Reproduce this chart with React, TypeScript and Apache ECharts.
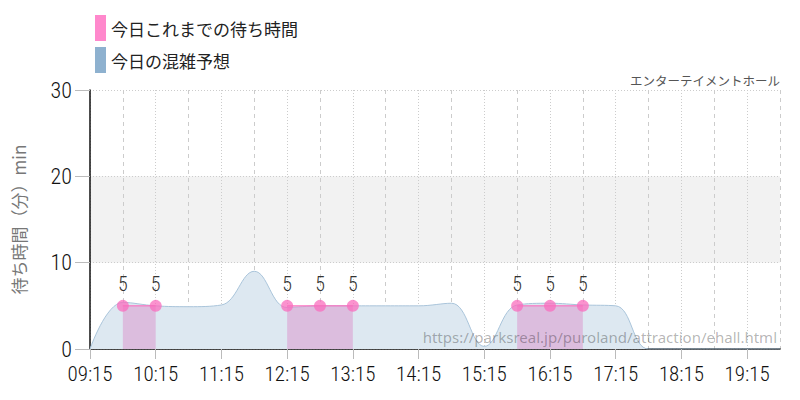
import { useEffect, useRef } from 'react';
import * as echarts from 'echarts';

// time slots every 30 min
const times = [
  '09:15', '09:45', '10:15', '10:45', '11:15', '11:45', '12:15', '12:45',
  '13:15', '13:45', '14:15', '14:45', '15:15', '15:45', '16:15', '16:45',
  '17:15', '17:45', '18:15', '18:45', '19:15', '19:45'
];

// today's forecast (blue area)
const forecast = [
  0, 5.4, 5.0, 4.9, 5.1, 9.0, 4.8, 5.0,
  5.0, 5.0, 5.0, 5.3, 0.3, 5.1, 5.3, 5.1,
  5.0, 0, 0, 0, 0, 0
];

// today's actual waits (pink)
const waits = [
  null, 5, 5, null, null, null, 5, 5,
  5, null, null, null, null, 5, 5, 5,
  null, null, null, null, null, null
];

const yTicks = [0, 10, 20, 30];

const condensed = "'Roboto Condensed', 'Liberation Sans Narrow', 'DejaVu Sans Condensed', sans-serif";
const jp = "'Noto Sans CJK JP', sans-serif";

const App = () => {
  const chartRef = useRef<HTMLDivElement>(null);

  useEffect(() => {
    if (!chartRef.current) return;
    const chart = echarts.init(chartRef.current, undefined, { renderer: 'svg' });

    const options: echarts.EChartsOption = {
      animation: false,
      backgroundColor: '#fff',
      textStyle: { fontFamily: jp },
      grid: { left: 90, right: 20, top: 90, bottom: 51 },
      legend: {
        orient: 'vertical',
        left: 90,
        top: 10,
        itemWidth: 11,
        itemHeight: 26,
        itemGap: 6,
        icon: 'rect',
        textStyle: { fontSize: 17, color: '#222', fontFamily: jp },
        data: [
          { name: '今日これまでの待ち時間', itemStyle: { color: '#ff88cc' } },
          { name: '今日の混雑予想', itemStyle: { color: '#8eb1cf' } }
        ]
      },
      title: {
        text: 'エンターテイメントホール',
        right: 15,
        top: 69,
        textStyle: { fontSize: 12.5, fontWeight: 'normal', color: '#555', fontFamily: jp }
      },
      graphic: [
        {
          type: 'text',
          right: 23,
          top: 329,
          z: 100,
          style: {
            text: 'https://parksreal.jp/puroland/attraction/ehall.html',
            fontSize: 15,
            fontFamily: "'Noto Sans', sans-serif",
            fill: 'rgba(0,0,0,0.3)'
          }
        }
      ],
      xAxis: [
        {
          type: 'category',
          data: times,
          boundaryGap: false,
          axisLine: { lineStyle: { color: '#111', width: 1.5 } },
          axisTick: { interval: 1, length: 10, lineStyle: { color: '#bbb' } },
          axisLabel: {
            interval: 1,
            fontSize: 21,
            fontWeight: 300,
            color: '#111',
            fontFamily: condensed,
            margin: 14
          },
          splitLine: {
            show: true,
            interval: 1,
            lineStyle: { color: '#ccc', type: [1, 2] }
          }
        },
        {
          type: 'category',
          data: times,
          boundaryGap: false,
          position: 'bottom',
          axisLine: { show: false },
          axisTick: { show: false },
          axisLabel: { show: false },
          splitLine: {
            show: true,
            interval: (i: number) => i % 2 === 1,
            lineStyle: { color: '#ccc', type: [4, 4] }
          }
        }
      ],
      yAxis: {
        type: 'value',
        min: yTicks[0],
        max: yTicks[yTicks.length - 1],
        interval: 10,
        name: '待ち時間（分）min',
        nameLocation: 'middle',
        nameRotate: 90,
        nameGap: 63,
        nameTextStyle: { fontSize: 17, color: '#777', fontFamily: jp },
        axisLine: { show: true, lineStyle: { color: '#111', width: 1.5 } },
        axisTick: { show: true, length: 15, lineStyle: { color: '#bbb' } },
        axisLabel: {
          fontSize: 22,
          fontWeight: 300,
          color: '#111',
          fontFamily: condensed,
          margin: 18
        },
        splitLine: { lineStyle: { color: '#ccc', type: [1, 2] } },
        splitArea: { show: true, areaStyle: { color: ['rgba(0,0,0,0)', '#f2f2f2'] } }
      },
      series: [
        {
          name: '今日の混雑予想',
          type: 'line',
          data: forecast,
          smooth: 0.4,
          symbol: 'none',
          lineStyle: { color: '#a9c4da', width: 1 },
          areaStyle: { color: '#dde8f1', opacity: 1 },
          itemStyle: { color: '#8eb1cf' },
          z: 2
        },
        {
          name: '今日これまでの待ち時間',
          type: 'line',
          data: waits,
          symbol: 'circle',
          symbolSize: 12,
          lineStyle: { color: '#ff66bb', width: 1 },
          itemStyle: { color: 'rgba(250,110,190,0.75)' },
          areaStyle: { color: 'rgba(220,160,210,0.6)', opacity: 1 },
          label: {
            show: true,
            position: 'top',
            distance: 6,
            fontSize: 20,
            fontWeight: 300,
            color: '#333',
            fontFamily: condensed
          },
          z: 3
        }
      ]
    };

    chart.setOption(options);
    return () => {
      chart.dispose();
    };
  }, []);

  return <div ref={chartRef} style={{ width: 800, height: 400, margin: -8 }} />;
};

export default App;
